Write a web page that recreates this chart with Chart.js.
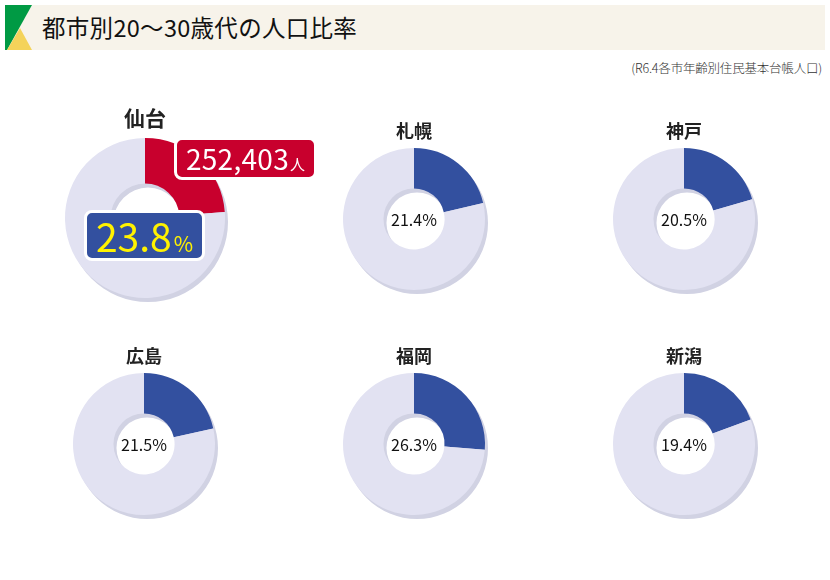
<!DOCTYPE html>
<html lang="ja">
<head>
<meta charset="utf-8">
<title>都市別20〜30歳代の人口比率</title>
<script src="https://cdn.jsdelivr.net/npm/chart.js@4.4.1/dist/chart.umd.min.js"></script>
<style>
  html, body { margin: 0; padding: 0; background: #fff; }
  body { width: 830px; height: 580px; position: relative; overflow: hidden;
         font-family: "Noto Sans CJK JP", "Noto Sans", sans-serif; color: #222; }
  .header { position: absolute; left: 5px; top: 5px; width: 820px; height: 45px; background: #f7f3ea; }
  .header svg { position: absolute; left: 0; top: 0; }
  .header h1 { position: absolute; left: 37px; top: 0; margin: 0; line-height: 45px;
               font-size: 23.5px; font-weight: 400; letter-spacing: 0.3px; color: #111; }
  .source { position: absolute; right: 8px; top: 58px; font-size: 12.5px; font-weight: 300; color: #333; letter-spacing: -0.2px; }
  .city { position: absolute; transform: translate(-50%, -50%); font-weight: 700; white-space: nowrap; }
  .pct { position: absolute; transform: translate(-50%, -50%); font-size: 16px; white-space: nowrap; color: #111; }
  canvas { position: absolute; }
  .callout { position: absolute; box-sizing: border-box; border: 3px solid #fff; border-radius: 8px;
             display: flex; align-items: baseline; justify-content: center; white-space: nowrap; }
  .people { left: 174px; top: 137px; width: 143px; height: 43px; background: #c8002d; color: #fff; }
  .people b { font-weight: 400; font-size: 28px; line-height: 37px; letter-spacing: 0.3px; }
  .people small { font-size: 15px; margin-left: 1px; }
  .share { left: 84px; top: 210px; width: 121px; height: 51px; background: #33509f; color: #fff200; }
  .share b { font-weight: 400; font-size: 39px; line-height: 45px; }
  .share small { font-size: 21px; margin-left: 2px; }
</style>
</head>
<body>
<div class="header">
  <svg width="40" height="45" viewBox="0 0 40 45">
    <polygon points="0,0 27,0 2,45 0,45" fill="#009a44"/>
    <polygon points="15,23 27,45 2,45" fill="#f4d35a"/>
  </svg>
  <h1>都市別20〜30歳代の人口比率</h1>
</div>
<div class="source">(R6.4各市年齢別住民基本台帳人口)</div>
<div id="charts"></div>

<script>
'use strict';

/* ── Data ── */
const cities = ['仙台', '札幌', '神戸', '広島', '福岡', '新潟'];
const shares = [23.8, 21.4, 20.5, 21.5, 26.3, 19.4];   // 20〜30歳代の比率 (%)
const sendaiPeople = 252403;                            // 仙台の20〜30歳代人口

/* ── Layout (centre of each donut, radius) ── */
const slots = [
  { x: 145, y: 218, r: 80, titleY: 117, titleSize: 21 },
  { x: 414, y: 219, r: 71, titleY: 130, titleSize: 18 },
  { x: 684, y: 219, r: 71, titleY: 130, titleSize: 18 },
  { x: 144, y: 444, r: 71, titleY: 355, titleSize: 18 },
  { x: 414, y: 444, r: 71, titleY: 355, titleSize: 18 },
  { x: 684, y: 444, r: 71, titleY: 355, titleSize: 18 },
];

const LIGHT  = '#e2e2f2';
const SHADOW = '#d1d2e3';
const BLUE   = '#33509f';
const RED    = '#c8002d';

// flat ring shadow to the lower right, drawn under the arcs from the arc geometry
const ringShadow = {
  id: 'ringShadow',
  beforeDatasetsDraw(chart) {
    const arc = chart.getDatasetMeta(0).data[0];
    if (!arc) return;
    const { x, y, innerRadius, outerRadius } = arc.getProps(['x', 'y', 'innerRadius', 'outerRadius'], true);
    const ctx = chart.ctx;
    ctx.save();
    ctx.fillStyle = SHADOW;
    ctx.beginPath();
    ctx.arc(x + 3, y + 4, outerRadius, 0, Math.PI * 2);
    ctx.arc(x + 3, y + 4, innerRadius, 0, Math.PI * 2, true);
    ctx.fill();
    ctx.restore();
  }
};

const holder = document.getElementById('charts');
const PAD = 10;

cities.forEach((name, i) => {
  const s = slots[i];
  const size = s.r * 2 + PAD * 2;

  const canvas = document.createElement('canvas');
  canvas.width = size;
  canvas.height = size;
  canvas.style.left = (s.x - size / 2) + 'px';
  canvas.style.top = (s.y - size / 2) + 'px';
  canvas.style.width = size + 'px';
  canvas.style.height = size + 'px';
  holder.appendChild(canvas);

  new Chart(canvas, {
    type: 'doughnut',
    data: {
      labels: ['20〜30歳代', 'その他'],
      datasets: [{
        data: [shares[i], 100 - shares[i]],
        backgroundColor: [i === 0 ? RED : BLUE, LIGHT],
        borderWidth: 0,
        clip: false,
      }]
    },
    options: {
      responsive: false,
      animation: false,
      events: [],
      cutout: '43%',
      layout: { padding: PAD },
      plugins: { legend: { display: false }, tooltip: { enabled: false } }
    },
    plugins: [ringShadow]
  });

  const title = document.createElement('div');
  title.className = 'city';
  title.textContent = name;
  title.style.left = s.x + 'px';
  title.style.top = s.titleY + 'px';
  title.style.fontSize = s.titleSize + 'px';
  holder.appendChild(title);

  if (i > 0) {
    const pct = document.createElement('div');
    pct.className = 'pct';
    pct.textContent = shares[i].toFixed(1) + '%';
    pct.style.left = s.x + 'px';
    pct.style.top = s.y + 'px';
    holder.appendChild(pct);
  }
});

/* ── Sendai callouts ── */
const people = document.createElement('div');
people.className = 'callout people';
people.innerHTML = `<b>${sendaiPeople.toLocaleString('en-US')}</b><small>人</small>`;
holder.appendChild(people);

const share = document.createElement('div');
share.className = 'callout share';
share.innerHTML = `<b>${shares[0].toFixed(1)}</b><small>%</small>`;
holder.appendChild(share);
</script>
</body>
</html>
